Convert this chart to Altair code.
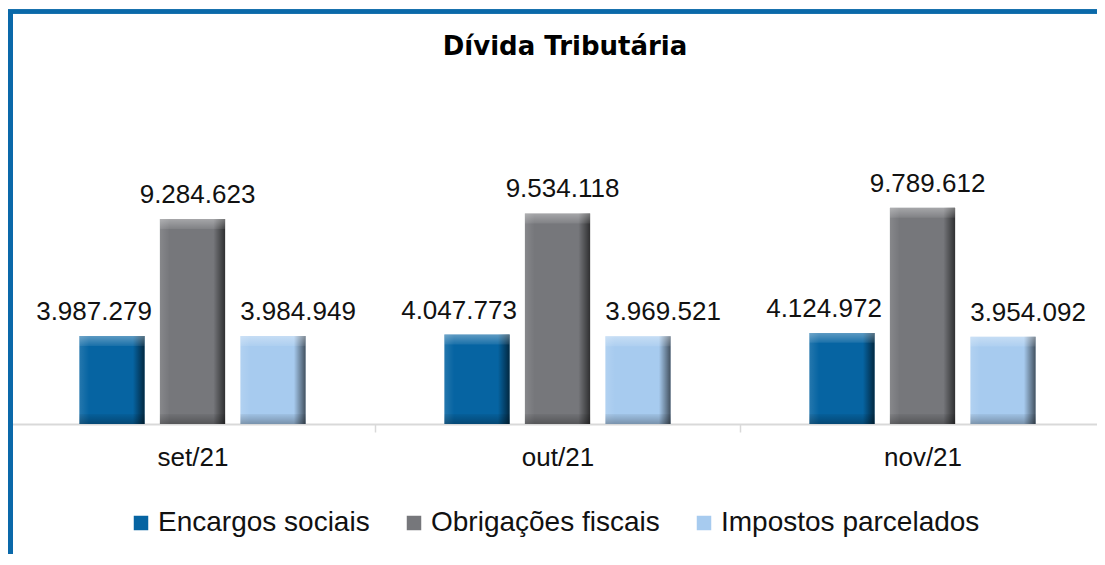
import altair as alt
import pandas as pd

title_text = "Dívida Tributária"
months = ["set/21", "out/21", "nov/21"]
series = ["Encargos sociais", "Obrigações fiscais", "Impostos parcelados"]
encargos = [3987279, 4047773, 4124972]
obrigacoes = [9284623, 9534118, 9789612]
impostos = [3984949, 3969521, 3954092]
colors = ["#0664a2", "#76777b", "#a7cbef"]
label_shift = [-18, 5, 25]

rows = []
for s, vals in zip(series, [encargos, obrigacoes, impostos]):
    for m, v in zip(months, vals):
        rows.append({"mes": m, "serie": s, "valor": v,
                     "rotulo": f"{v:,}".replace(",", ".")})
df = pd.DataFrame(rows)

BEVEL = 450000
YMAX = 12000000

x_enc = alt.X("mes:N", sort=months, title=None,
              scale=alt.Scale(paddingInner=0, paddingOuter=0, range=[0, 1095]),
              axis=alt.Axis(labelAngle=0, tickBand="extent", tickSize=8,
                            tickColor="#d9d9d9", tickWidth=1.5,
                            domainColor="#d9d9d9", domainWidth=2,
                            labelFont="Liberation Sans", labelFontSize=26,
                            labelColor="#111111", labelBaseline="alphabetic",
                            labelPadding=33, grid=False))
xo_enc = alt.XOffset("serie:N", sort=series,
                     scale=alt.Scale(paddingInner=0.19, paddingOuter=0.862))
y_enc = alt.Y("valor:Q", scale=alt.Scale(domain=[0, YMAX]), axis=None)

base = alt.Chart(df)

bars = base.mark_bar().encode(
    x=x_enc, xOffset=xo_enc, y=y_enc,
    color=alt.Color("serie:N", sort=series,
                    scale=alt.Scale(domain=series, range=colors),
                    legend=alt.Legend(title=None, orient="none", direction="horizontal",
                                      legendX=117, legendY=350,
                                      symbolType="square", symbolSize=210,
                                      symbolStrokeWidth=0, symbolOpacity=1,
                                      labelFont="Liberation Sans", labelFontSize=28,
                                      labelColor="#111111", labelOffset=3,
                                      labelLimit=500, columnPadding=30)),
)

side = base.mark_bar(fill={
    "gradient": "linear", "x1": 0, "x2": 1, "y1": 0, "y2": 0,
    "stops": [
        {"offset": 0, "color": "rgba(255,255,255,0.12)"},
        {"offset": 0.15, "color": "rgba(255,255,255,0)"},
        {"offset": 0.82, "color": "rgba(0,0,0,0)"},
        {"offset": 1, "color": "rgba(0,0,0,0.6)"},
    ]}).encode(x=x_enc, xOffset=xo_enc, y=y_enc)

top = base.transform_calculate(y2v=f"datum.valor - {BEVEL}").mark_bar(fill={
    "gradient": "linear", "x1": 0, "x2": 0, "y1": 0, "y2": 1,
    "stops": [
        {"offset": 0, "color": "rgba(255,255,255,0.35)"},
        {"offset": 1, "color": "rgba(255,255,255,0.08)"},
    ]}).encode(x=x_enc, xOffset=xo_enc, y=y_enc, y2="y2v:Q")

bottom = base.transform_calculate(y2v=f"{BEVEL}", y0="0").mark_bar(fill={
    "gradient": "linear", "x1": 0, "x2": 0, "y1": 0, "y2": 1,
    "stops": [
        {"offset": 0, "color": "rgba(0,0,0,0.05)"},
        {"offset": 1, "color": "rgba(0,0,0,0.28)"},
    ]}).encode(x=x_enc, xOffset=xo_enc,
               y=alt.Y("y2v:Q", scale=alt.Scale(domain=[0, YMAX]), axis=None),
               y2="y0:Q")

label_layers = []
for s, shift in zip(series, label_shift):
    label_layers.append(
        base.transform_filter(alt.datum.serie == s).mark_text(
            font="Liberation Sans", fontSize=26, baseline="alphabetic",
            dy=-16, dx=shift, color="#111111").encode(
            x=x_enc, xOffset=xo_enc, y=y_enc, text="rotulo:N"))

title = alt.Chart(pd.DataFrame({"t": [title_text]})).mark_text(
    font="DejaVu Sans", fontSize=26, fontWeight="bold", color="#000000",
    align="center", baseline="alphabetic").encode(
    text="t:N", x=alt.value(555), y=alt.value(-104))

frame_left = base.mark_rule(color="#0a69a9", strokeWidth=4).encode(
    x=alt.value(0.5), y=alt.value(-149), y2=alt.value(400))
frame_top = base.mark_rule(color="#0a69a9", strokeWidth=3.5).encode(
    x=alt.value(-2), x2=alt.value(1100), y=alt.value(-147.5))

chart = alt.layer(bars, side, top, bottom, *label_layers, title,
                  frame_left, frame_top).properties(
    width=1087, height=265,
    background="white",
    autosize=alt.AutoSizeParams(type="none"),
    padding={"left": 2, "top": 151, "right": 0, "bottom": 130},
).configure_view(stroke=None)

chart.save("out.html", embed_options={"renderer": "svg", "actions": False})
